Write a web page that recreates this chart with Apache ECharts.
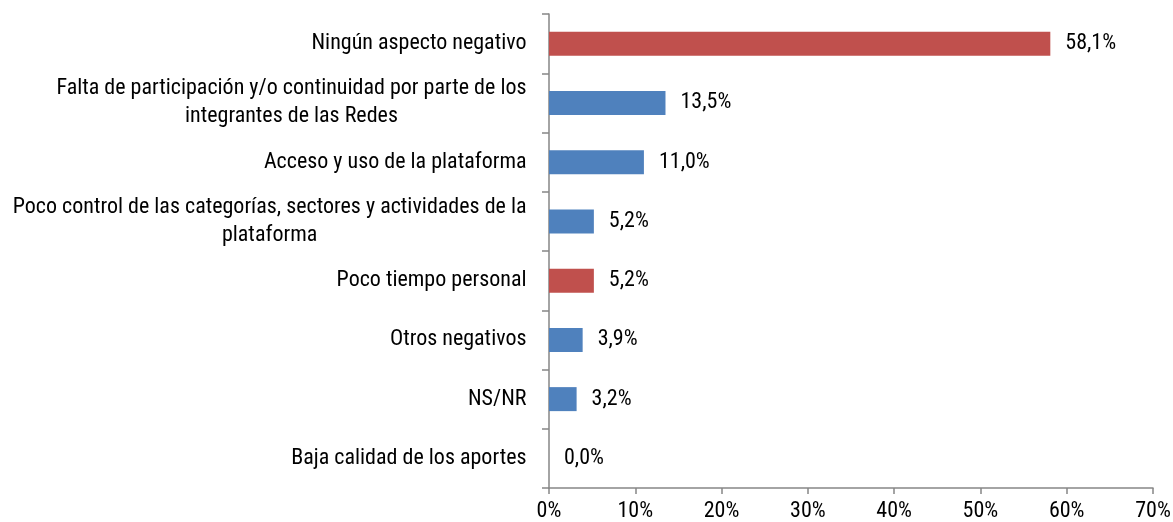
<!DOCTYPE html>
<html>
<head>
<meta charset="utf-8">
<script src="https://cdn.jsdelivr.net/npm/echarts@6/dist/echarts.min.js"></script>
<style>
  html, body { margin: 0; padding: 0; background: #fff; }
  #chart { width: 1173px; height: 522px; }
</style>
</head>
<body>
<div id="chart"></div>
<script>
const categories = [
  'Ningún aspecto negativo',
  'Falta de participación y/o continuidad por parte de los\nintegrantes de las Redes',
  'Acceso y uso de la plataforma',
  'Poco control de las categorías, sectores y actividades de la\nplataforma',
  'Poco tiempo personal',
  'Otros negativos',
  'NS/NR',
  'Baja calidad de los aportes'
];
const values = [58.1, 13.5, 11.0, 5.2, 5.2, 3.9, 3.2, 0.0];
const highlighted = ['Ningún aspecto negativo', 'Poco tiempo personal'];
const xTicks = [0, 10, 20, 30, 40, 50, 60, 70];

const labelFont = '"Roboto Condensed", "Arial Narrow", sans-serif';
const labelSize = 22;
const red = '#C0504D';
const blue = '#4F81BD';
const axisGrey = '#868686';

// measure text so wrapped labels can be centred inside their own block
const ctx = document.createElement('canvas').getContext('2d');
ctx.font = labelSize + 'px ' + labelFont;
function blockWidth(txt) {
  return Math.max(...txt.split('\n').map(l => ctx.measureText(l).width)) + 1;
}

const rich = {};
categories.forEach((c, i) => {
  rich['c' + i] = { width: blockWidth(c), align: 'center', fontSize: labelSize,
    fontFamily: labelFont, color: '#000', lineHeight: 28 };
});

const chart = echarts.init(document.getElementById('chart'), null, { renderer: 'canvas' });
chart.setOption({
  animation: false,
  grid: { left: 549, right: 20, top: 14, bottom: 34, containLabel: false, outerBoundsMode: 'none' },
  xAxis: {
    type: 'value',
    min: xTicks[0],
    max: xTicks[xTicks.length - 1],
    interval: 10,
    axisLine: { show: true, lineStyle: { color: axisGrey, width: 1.5 } },
    axisTick: { show: true, length: 6, lineStyle: { color: axisGrey, width: 1.5 } },
    splitLine: { show: false },
    axisLabel: {
      formatter: v => v + '%',
      color: '#000',
      fontSize: 22,
      fontFamily: labelFont,
      margin: 12
    }
  },
  yAxis: {
    type: 'category',
    data: categories,
    inverse: true,
    axisLine: { show: true, lineStyle: { color: axisGrey, width: 1.5 } },
    axisTick: { show: true, length: 7, lineStyle: { color: axisGrey, width: 1.5 } },
    axisLabel: {
      margin: 22,
      formatter: (v) => {
        const i = categories.indexOf(v);
        return v.split('\n').map(l => '{c' + i + '|' + l + '}').join('\n');
      },
      rich: rich
    }
  },
  series: [{
    type: 'bar',
    data: values.map((v, i) => ({
      value: v,
      itemStyle: { color: highlighted.includes(categories[i]) ? red : blue }
    })),
    barWidth: 24,
    label: {
      show: true,
      position: 'right',
      distance: 15,
      formatter: p => p.value.toFixed(1).replace('.', ',') + '%',
      color: '#000',
      fontSize: labelSize,
      fontFamily: labelFont
    }
  }]
});
</script>
</body>
</html>
